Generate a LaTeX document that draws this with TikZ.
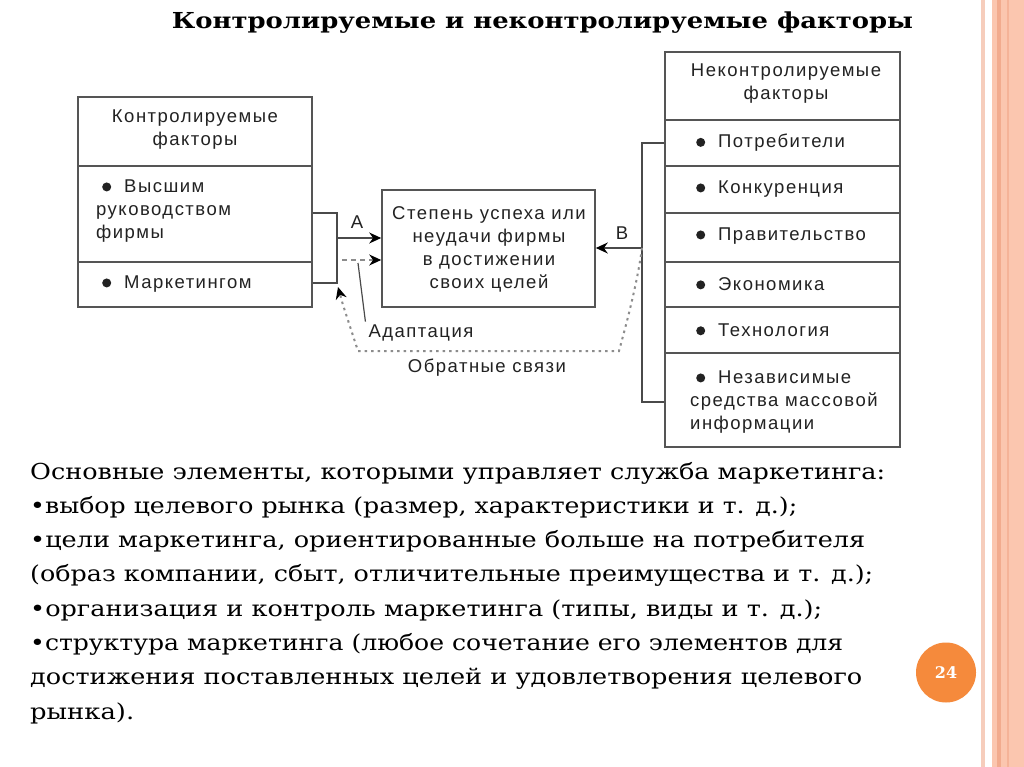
\documentclass[tikz,border=0pt]{standalone}
\usepackage{fontspec}
\usepackage{graphicx}
\usetikzlibrary{arrows.meta}
\setmainfont{DejaVu Serif}
\newfontfamily\diagfont[LetterSpace=8]{Liberation Sans}
\definecolor{boxline}{HTML}{555555}
\definecolor{conline}{HTML}{4A4A4A}
\definecolor{fbgray}{HTML}{8C8C8C}
\definecolor{numorange}{HTML}{F58A3C}
\definecolor{stripeA}{HTML}{F6CDBC}
\definecolor{stripeB}{HTML}{FBC6AF}
\definecolor{stripeC}{HTML}{F2AB8E}
\definecolor{txtgray}{HTML}{222222}
\newcommand\bulmark{\hspace*{6pt}\tikz[baseline=0pt,x=1pt,y=1pt]\fill (4.5,5.5) circle (4.5);\hspace*{13pt}}
\newcommand\fitline[2]{\resizebox{#1pt}{\height}{#2}}
\tikzset{
  cell/.style={draw=boxline, line width=1.6pt, inner sep=0pt, minimum width=#1},
  dtxt/.style={font=\diagfont\fontsize{18.5}{23}\selectfont, text=txtgray, inner sep=0pt},
  conn/.style={draw=conline, line width=1.5pt},
  arrowtip/.style={-{Stealth[length=12pt,width=11pt,color=black]}},
  fb/.style={draw=fbgray, line width=2pt, dash pattern=on 2.5pt off 4pt},
  dgray/.style={draw=fbgray, line width=1.6pt, dash pattern=on 5pt off 4pt},
  body/.style={anchor=base west, inner sep=0pt, font=\fontsize{22}{26}\selectfont, text=black}
}
\begin{document}
\begin{tikzpicture}[x=1pt,y=-1pt]
\useasboundingbox (0,0) rectangle (1024,767);
\fill[white] (0,0) rectangle (1024,767);
% right decorative stripes
\fill[stripeA] (981,0) rectangle (985,767);
\fill[stripeB] (992,0) rectangle (1024,767);
\fill[stripeC] (997,0) rectangle (1000.5,767);
\fill[stripeC!70!stripeB] (1006.5,0) rectangle (1008.5,767);

% title
\node[anchor=base, inner sep=0pt, font=\fontsize{22}{26}\selectfont\bfseries] (title) at (542.5,29)
  {\fitline{741}{Контролируемые и неконтролируемые факторы}};

% left box
\node[cell=234pt, minimum height=69pt] (L0) at (195,131.5) {};
\node[cell=234pt, minimum height=96pt] (L1) at (195,214) {};
\node[cell=234pt, minimum height=45pt] (L2) at (195,284.5) {};
\node[dtxt, align=center] (L0t) at (195,130) {Контролируемые\\факторы};
\node[dtxt, align=left, anchor=west] (L1t) at (96,211) {\bulmark Высшим\\руководством\\фирмы};
\node[dtxt, anchor=west] (L2t) at (96,284) {\bulmark Маркетингом};

% centre box
\node[cell=213pt, minimum height=117pt] (C) at (488.5,248.5) {};
\node[dtxt, align=center] (Ct) at (489,249) {Степень успеха или\\неудачи фирмы\\в достижении\\своих целей};

% right box
\node[cell=235pt, minimum height=68pt] (R0) at (782.5,86) {};
\node[cell=235pt, minimum height=46pt] (R1) at (782.5,143) {};
\node[cell=235pt, minimum height=47pt] (R2) at (782.5,189.5) {};
\node[cell=235pt, minimum height=49pt] (R3) at (782.5,237.5) {};
\node[cell=235pt, minimum height=45pt] (R4) at (782.5,284.5) {};
\node[cell=235pt, minimum height=46pt] (R5) at (782.5,330) {};
\node[cell=235pt, minimum height=94pt] (R6) at (782.5,400) {};
\node[dtxt, align=center] (R0t) at (786,84) {Неконтролируемые\\факторы};
\node[dtxt, anchor=west] (R1t) at (690,143) {\bulmark Потребители};
\node[dtxt, anchor=west] (R2t) at (690,189) {\bulmark Конкуренция};
\node[dtxt, anchor=west] (R3t) at (690,236) {\bulmark Правительство};
\node[dtxt, anchor=west] (R4t) at (690,284) {\bulmark Экономика};
\node[dtxt, anchor=west] (R5t) at (690,330) {\bulmark Технология};
\node[dtxt, align=left, anchor=west] (R6t) at (690,402) {\bulmark Независимые\\средства массовой\\информации};

% labels
\node[dtxt] (labA) at (357,222) {A};
\node[dtxt] (labB) at (622,233) {B};
\node[dtxt, inner sep=3pt] (adapt) at (421,333) {Адаптация};
\node[dtxt] (obr) at (487,368) {Обратные связи};

% left connectors
\coordinate (j1) at (337,213);
\coordinate (jA) at (337,238);
\coordinate (j2) at (337,283);
\coordinate (jD) at (342,260);
\coordinate (aTop) at (358,263);
\draw[conn] (L1.east |- j1) -- (j1) -- (j2) -- (L2.east |- j2);
\draw[conn, arrowtip] (jA) -- (C.west |- jA);
\draw[dgray, arrowtip] (jD) -- (C.west |- jD);
\draw[conn, line width=1.2pt] (aTop) -- (adapt.north west);

% right bracket
\coordinate (bT) at (642,143);
\coordinate (bB) at (642,402);
\coordinate (bM) at (642,248);
\draw[conn] (R1.west) -- (bT) -- (bB) -- (R6.west |- bB);
\draw[conn, arrowtip] (bM) -- (C.east |- bM);

% feedback (dotted)
\coordinate (fEnd) at (338,287);
\draw[fb, arrowtip] (bM) .. controls (637,285) and (626,325) .. (619,351) -- (358,351) -- (343,305) -- (fEnd);

% body text
\node[body] (t1) at (30,479) {\fitline{855}{Основные элементы, которыми управляет служба маркетинга:}};
\node[body] (t2) at (30,513.3) {\fitline{767}{•выбор целевого рынка (размер, характеристики и т. д.);}};
\node[body] (t3) at (30,547.6) {\fitline{835}{•цели маркетинга, ориентированные больше на потребителя}};
\node[body] (t4) at (30,581.9) {\fitline{843}{(образ компании, сбыт, отличительные преимущества и т. д.);}};
\node[body] (t5) at (30,616.2) {\fitline{792}{•организация и контроль маркетинга (типы, виды и т. д.);}};
\node[body] (t6) at (30,650.5) {\fitline{813}{•структура маркетинга (любое сочетание его элементов для}};
\node[body] (t7) at (30,684.8) {\fitline{832}{достижения поставленных целей и удовлетворения целевого}};
\node[body] (t8) at (30,719.1) {\fitline{104}{рынка).}};

% page number
\node[circle, fill=numorange, minimum size=60pt, inner sep=0pt, text=white,
      font=\fontsize{16}{16}\selectfont\bfseries] (pg) at (946,672.5) {24};
\end{tikzpicture}
\end{document}
